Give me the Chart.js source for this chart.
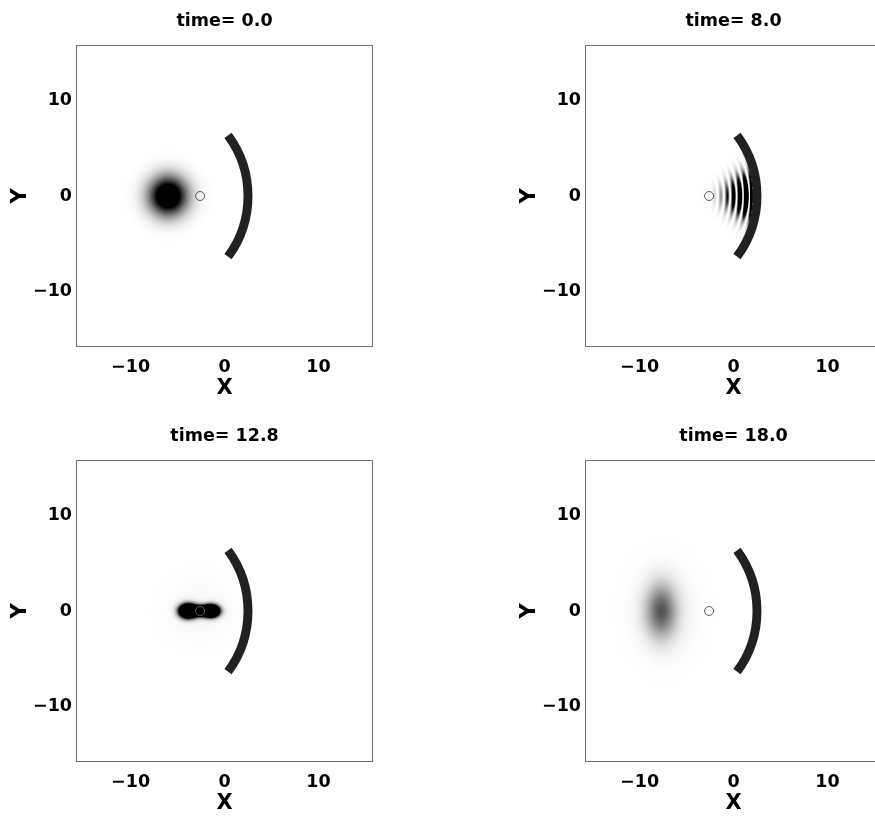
<!DOCTYPE html>
<html>
<head>
<meta charset="utf-8">
<script src="https://cdn.jsdelivr.net/npm/chart.js@4.4.1/dist/chart.umd.min.js"></script>
<style>
  body { margin: 0; background: #fff; }
  #wrap { position: relative; width: 875px; height: 816px; overflow: hidden; }
  #wrap canvas { position: absolute; }
</style>
</head>
<body>
<div id="wrap">
  <canvas id="p0" width="449" height="401" style="left:0px;top:0px"></canvas>
  <canvas id="p1" width="449" height="401" style="left:509px;top:0px"></canvas>
  <canvas id="p2" width="449" height="401" style="left:0px;top:415px"></canvas>
  <canvas id="p3" width="449" height="401" style="left:509px;top:415px"></canvas>
</div>
<script>
const times = ['0.0', '8.0', '12.8', '18.0'];
const axisMin = -15.7;
const axisMax = 15.7;
const tickValues = [-10, 0, 10];

// small circle (focal point of the mirror)
const focus = [{ x: -2.6, y: 0 }];

// mirror: centre of curvature, radius, thickness, half opening angle (deg)
const mirrorCenter = [-8.05, 0];
const mirrorRadius = 10.55;
const mirrorWidth = 0.95;
const mirrorHalfAngle = 37;

// density blobs per frame: [x, y, sigmaX, sigmaY, peak]
const blobs0 = [[-6.0, 0, 1.38, 1.38, 1.48]];
const blobs8 = [];
const blobs12 = [
  [-3.9, 0, 0.55, 0.44, 4],
  [-1.4, 0, 0.5, 0.38, 4],
  [-2.6, 0, 0.9, 0.36, 3],
  [-2.6, 0, 2.3, 2.1, 0.035]
];
const blobs18 = [
  [-7.7, 0, 1.1, 1.9, 0.6],
  [-7.4, 0, 2.1, 2.9, 0.07]
];

// fringes: [centerX, centerY, darkRingR, period, envR, envSigmaR, sigmaTheta, peak, maxR]
const fringes0 = [];
const fringes8 = [[-8.05, 0, 8.05, 0.68, 10.0, 1.55, 0.14, 4, 10.1]];
const fringes12 = [];
const fringes18 = [];

const frameBlobs = [blobs0, blobs8, blobs12, blobs18];
const frameFringes = [fringes0, fringes8, fringes12, fringes18];

Chart.defaults.font.family = '"DejaVu Sans", sans-serif';
Chart.defaults.font.weight = 'bold';
Chart.defaults.color = '#000';

function density(x, y, blobs, fringes) {
  let v = 0;
  blobs.forEach(b => {
    const dx = (x - b[0]) / b[2];
    const dy = (y - b[1]) / b[3];
    v += b[4] * Math.exp(-0.5 * (dx * dx + dy * dy));
  });
  fringes.forEach(f => {
    const rx = x - f[0], ry = y - f[1];
    const r = Math.sqrt(rx * rx + ry * ry);
    if (r > f[8]) return;
    const th = Math.atan2(ry, rx);
    const er = (r - f[4]) / f[5];
    const et = th / f[6];
    const env = f[7] * Math.exp(-0.5 * (er * er + et * et));
    const c = Math.cos(Math.PI * (r - f[2]) / f[3]);
    v += env * c * c;
  });
  return v;
}

const fieldPlugin = {
  id: 'field',
  beforeDatasetsDraw(chart) {
    const idx = chart.options.plugins.field.frame;
    const { left, top, right, bottom } = chart.chartArea;
    const xs = chart.scales.x, ys = chart.scales.y;
    const w = Math.round(right - left), h = Math.round(bottom - top);
    const off = document.createElement('canvas');
    off.width = w; off.height = h;
    const octx = off.getContext('2d');
    const img = octx.createImageData(w, h);
    const xv = [], yv = [];
    for (let i = 0; i < w; i++) xv.push(xs.getValueForPixel(left + i + 0.5));
    for (let j = 0; j < h; j++) yv.push(ys.getValueForPixel(top + j + 0.5));
    for (let j = 0; j < h; j++) {
      for (let i = 0; i < w; i++) {
        const v = Math.min(1, density(xv[i], yv[j], frameBlobs[idx], frameFringes[idx]));
        const g = Math.round(255 * (1 - v));
        const k = (j * w + i) * 4;
        img.data[k] = g; img.data[k + 1] = g; img.data[k + 2] = g; img.data[k + 3] = 255;
      }
    }
    octx.putImageData(img, 0, 0);
    const ctx = chart.ctx;
    ctx.drawImage(off, left, top);

    // mirror
    const cx = xs.getPixelForValue(mirrorCenter[0]);
    const cy = ys.getPixelForValue(mirrorCenter[1]);
    const rx = xs.getPixelForValue(mirrorCenter[0] + mirrorRadius) - cx;
    const ry = cy - ys.getPixelForValue(mirrorCenter[1] + mirrorRadius);
    const a = mirrorHalfAngle * Math.PI / 180;
    ctx.save();
    ctx.beginPath();
    ctx.ellipse(cx, cy, rx, ry, 0, -a, a);
    ctx.lineWidth = xs.getPixelForValue(mirrorWidth) - xs.getPixelForValue(0);
    ctx.lineCap = 'butt';
    ctx.strokeStyle = '#212121';
    ctx.stroke();
    ctx.restore();
  },
  afterDraw(chart) {
    const { left, top, right, bottom } = chart.chartArea;
    const ctx = chart.ctx;
    ctx.save();
    ctx.strokeStyle = '#6e6e6e';
    ctx.lineWidth = 1;
    ctx.strokeRect(Math.round(left) - 0.5, Math.round(top) - 0.5,
      Math.round(right - left) + 1, Math.round(bottom - top) + 1);
    ctx.restore();
  }
};

function tickLabel(v) {
  return String(v).replace('-', '\u2212');
}

function makePanel(id, idx) {
  return new Chart(document.getElementById(id), {
    type: 'scatter',
    data: {
      datasets: [{
        data: focus,
        pointRadius: 4.5,
        pointBorderWidth: 1,
        pointBorderColor: '#5a5a5a',
        pointBackgroundColor: 'rgba(0,0,0,0)'
      }]
    },
    options: {
      responsive: false,
      animation: false,
      events: [],
      layout: { padding: { left: 0, right: 77, top: 0, bottom: 0 } },
      scales: {
        x: {
          type: 'linear',
          min: axisMin,
          max: axisMax,
          afterBuildTicks: axis => { axis.ticks = tickValues.map(v => ({ value: v })); },
          afterFit: s => { s.height = 55; },
          grid: { display: false, drawTicks: false },
          border: { display: false },
          ticks: { padding: 11, maxRotation: 0, font: { size: 17.5 }, callback: tickLabel },
          title: { display: true, text: 'X', font: { size: 21 }, padding: 0 }
        },
        y: {
          type: 'linear',
          min: axisMin,
          max: axisMax,
          afterBuildTicks: axis => { axis.ticks = tickValues.map(v => ({ value: v })); },
          afterFit: s => { s.width = 77; },
          grid: { display: false, drawTicks: false },
          border: { display: false },
          ticks: { padding: 5, font: { size: 17.5 }, callback: tickLabel },
          title: { display: true, text: 'Y', font: { size: 21 }, padding: { top: 8, bottom: 0 } }
        }
      },
      plugins: {
        legend: { display: false },
        tooltip: { enabled: false },
        title: {
          display: true,
          fullSize: false,
          text: 'time= ' + times[idx],
          font: { size: 17.5 },
          padding: { top: 11, bottom: 14 }
        },
        field: { frame: idx }
      }
    },
    plugins: [fieldPlugin]
  });
}

makePanel('p0', 0);
makePanel('p1', 1);
makePanel('p2', 2);
makePanel('p3', 3);
</script>
</body>
</html>
